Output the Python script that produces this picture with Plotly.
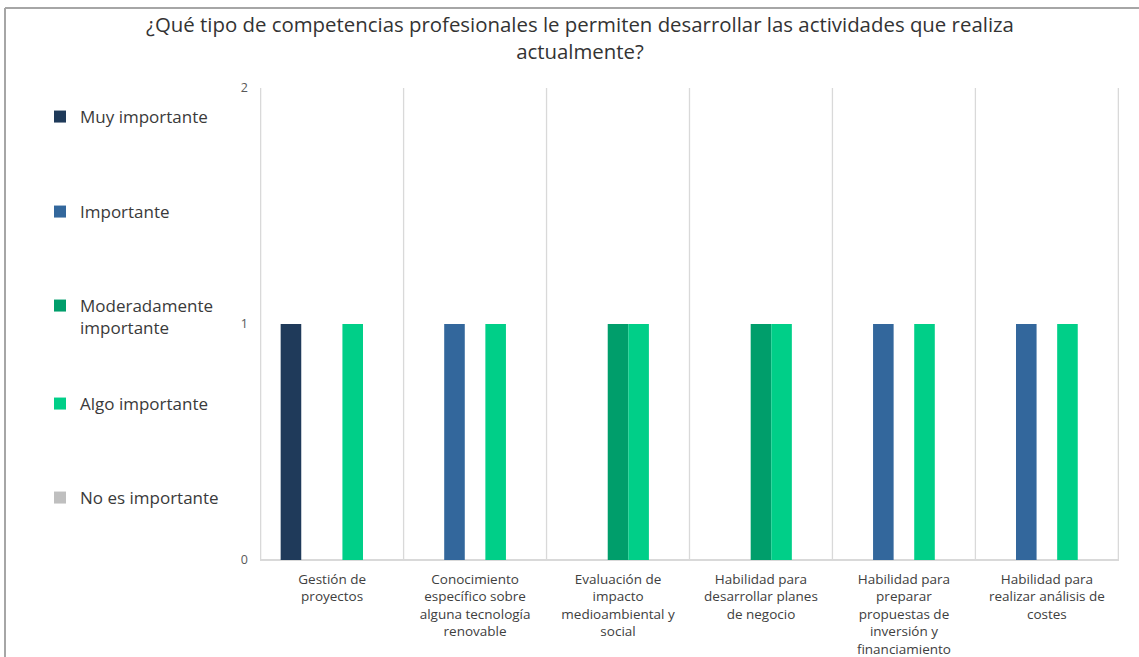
import plotly.graph_objects as go

# ── Datos ────────────────────────────────────────────────────────────────────
categorias = [
    "Gestión de<br>proyectos",
    "Conocimiento<br>específico sobre<br>alguna tecnología<br>renovable",
    "Evaluación de<br>impacto<br>medioambiental y<br>social",
    "Habilidad para<br>desarrollar planes<br>de negocio",
    "Habilidad para<br>preparar<br>propuestas de<br>inversión y<br>financiamiento",
    "Habilidad para<br>realizar análisis de<br>costes",
]

muy_importante = [1, 0, 0, 0, 0, 0]
importante = [0, 1, 0, 0, 1, 1]
moderadamente = [0, 0, 1, 1, 0, 0]
algo_importante = [1, 1, 1, 1, 1, 1]
no_importante = [0, 0, 0, 0, 0, 0]

series = [
    ("Muy importante", muy_importante, "#1f3a5a"),
    ("Importante", importante, "#33679c"),
    ("Moderadamente<br>importante", moderadamente, "#009e6b"),
    ("Algo importante", algo_importante, "#00cf88"),
    ("No es importante", no_importante, "#bfbfbf"),
]

titulo = ("¿Qué tipo de competencias profesionales le permiten desarrollar las "
          "actividades que realiza<br>actualmente?")

FONT = "'Open Sans', sans-serif"

# ── Geometría en píxeles (ventana 1139x657) ─────────────────────────────────
W, H = 1139, 657
L, R, T, B = 260, 20, 88, 97
pw, ph = W - L - R, H - T - B

# centro vertical (px) de cada entrada de la leyenda
LEG_Y = [117, 212, 317, 404, 498]


def px_x(x):
    return (x - L) / pw


def px_y(y):
    return (H - B - y) / ph


fig = go.Figure()

for i, (nombre, valores, color) in enumerate(series):
    fig.add_trace(go.Bar(
        x=categorias,
        y=valores,
        name=nombre,
        showlegend=True,
        marker=dict(color=color, line=dict(width=0)),
        legend="legend" if i == 0 else f"legend{i + 1}",
        hovertemplate="%{y}<extra></extra>",
    ))

# Líneas verticales entre categorías
shapes = []
for k in range(len(categorias) + 1):
    shapes.append(dict(
        type="line", xref="x", yref="paper",
        x0=k - 0.5, x1=k - 0.5, y0=0, y1=1,
        line=dict(color="#d9d9d9", width=1.3),
        layer="below",
    ))

# Marco exterior (izquierda y arriba)
shapes.append(dict(
    type="line", xref="paper", yref="paper",
    x0=px_x(5), x1=px_x(5), y0=px_y(8), y1=px_y(H + 5),
    line=dict(color="#a6a6a6", width=2),
))
shapes.append(dict(
    type="line", xref="paper", yref="paper",
    x0=px_x(5), x1=px_x(W + 5), y0=px_y(8), y1=px_y(8),
    line=dict(color="#a6a6a6", width=2),
))

legends = {}
for i, yc in enumerate(LEG_Y):
    key = "legend" if i == 0 else f"legend{i + 1}"
    legends[key] = dict(
        x=px_x(40), xanchor="left",
        y=px_y(yc), yanchor="middle",
        valign="top",
        bgcolor="rgba(0,0,0,0)",
        font=dict(size=17, color="#3a3a3a"),
        itemclick=False,
        itemdoubleclick=False,
    )

fig.update_layout(
    width=W,
    height=H,
    showlegend=True,
    margin=dict(l=L, r=R, t=T, b=B, autoexpand=False),
    paper_bgcolor="white",
    plot_bgcolor="white",
    barmode="group",
    bargap=0.28,
    bargroupgap=0,
    font=dict(family=FONT, color="#404040"),
    title=dict(
        text=titulo,
        x=580 / W, xanchor="center", xref="container",
        y=1 - 32 / H, yanchor="top", yref="container",
        font=dict(size=20.4, color="#333333", family=FONT),
    ),
    xaxis=dict(
        showgrid=False,
        showline=False,
        ticks="",
        tickfont=dict(size=13.5, color="#404040"),
        tickangle=0,
        ticklabelstandoff=9,
    ),
    yaxis=dict(
        range=[0, 2],
        tickvals=[0, 1, 2],
        showgrid=False,
        zeroline=True,
        zerolinecolor="#d9d9d9",
        zerolinewidth=1.5,
        showline=False,
        ticks="",
        ticklabelstandoff=11,
        tickfont=dict(size=12.5, color="#595959"),
    ),
    shapes=shapes,
    hovermode="x",
    **legends,
)

fig.write_html(
    "out.html",
    config={"displayModeBar": False},
    post_script="document.body.style.margin='0';document.body.style.overflow='hidden';",
)
